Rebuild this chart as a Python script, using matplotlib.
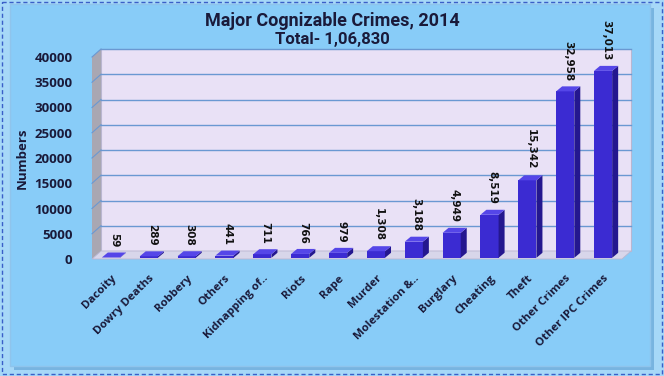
import matplotlib
matplotlib.use("Agg")
import matplotlib.pyplot as plt
from matplotlib.patches import Polygon, Rectangle
from matplotlib import font_manager
import numpy as np

categories = ["Dacoity", "Dowry Deaths", "Robbery", "Others", "Kidnapping of..", "Riots",
              "Rape", "Murder", "Molestation &..", "Burglary", "Cheating", "Theft",
              "Other Crimes", "Other IPC Crimes"]
values = [59, 289, 308, 441, 711, 766, 979, 1308, 3188, 4949, 8519, 15342, 32958, 37013]
value_labels = ["59", "289", "308", "441", "711", "766", "979", "1,308", "3,188", "4,949",
                "8,519", "15,342", "32,958", "37,013"]
yticks = [0, 5000, 10000, 15000, 20000, 25000, 30000, 35000, 40000]

names = {f.name for f in font_manager.fontManager.ttflist}
title_font = "Roboto" if "Roboto" in names else "DejaVu Sans"
label_font = "Open Sans" if "Open Sans" in names else "DejaVu Sans"

W, H = 664, 376
fig = plt.figure(figsize=(W / 100, H / 100), dpi=100)
fig.patch.set_facecolor("#A6D8F8")

bg = fig.add_axes([0, 0, 1, 1])
bg.set_xlim(0, W); bg.set_ylim(H, 0); bg.axis("off")
bg.add_patch(Rectangle((14, 8), 640, 362, facecolor="#78B4E0", edgecolor="none"))
bg.add_patch(Rectangle((10, 4), 640, 362, facecolor="#88CCF8", edgecolor="#8FC4EC", lw=1))
bg.add_patch(Rectangle((2, 2), W - 4, H - 4, facecolor="none", edgecolor="#3A5FC8",
                       lw=1, ls=(0, (3, 2))))

left, right, bot, top = 92, 622, 259, 57
ax = fig.add_axes([left / W, 1 - bot / H, (right - left) / W, (bot - top) / H])
ax.set_xlim(-0.5, len(categories) - 0.5)
ax.set_ylim(0, 40000)
ax.patch.set_alpha(0)
for s in ax.spines.values():
    s.set_visible(False)

ppx = (right - left) / len(categories)
ppy = (bot - top) / 40000.0
dx = 9 / ppx
dy = 8 / ppy
x0, x1 = -0.5, len(categories) - 0.5

ax.add_patch(Polygon([(x0 + dx, dy), (x1 + dx, dy), (x1 + dx, 40000 + dy), (x0 + dx, 40000 + dy)],
                     closed=True, facecolor="#E9E1F6", edgecolor="#B9B6D0", lw=0.8, clip_on=False, zorder=0))
ax.add_patch(Polygon([(x0, 0), (x0 + dx, dy), (x0 + dx, 40000 + dy), (x0, 40000)],
                     closed=True, facecolor="#A9A7B2", edgecolor="none", clip_on=False, zorder=0))
ax.add_patch(Polygon([(x0, 0), (x1, 0), (x1 + dx, dy), (x0 + dx, dy)],
                     closed=True, facecolor="#D8D6EA", edgecolor="#B9B6D0", lw=0.6, clip_on=False, zorder=0))
for t in yticks[1:]:
    ax.plot([x0 + dx, x1 + dx], [t + dy, t + dy], color="#6A98D2", lw=1.0, clip_on=False, zorder=1)
    ax.plot([x0, x0 + dx], [t, t + dy], color="#6A98D2", lw=0.8, clip_on=False, zorder=1)

bw = 0.24
bdx = 6 / ppx
bdy = 5 / ppy
for i, v in enumerate(values):
    xl, xr = i - bw, i + bw
    y0 = dy * 0.15
    ax.add_patch(Polygon([(xl, y0), (xr, y0), (xr, y0 + v), (xl, y0 + v)], closed=True,
                         facecolor="#3B2BD2", edgecolor="none", clip_on=False, zorder=3))
    ax.add_patch(Polygon([(xr, y0), (xr + bdx, y0 + bdy), (xr + bdx, y0 + v + bdy), (xr, y0 + v)],
                         closed=True, facecolor="#24178F", edgecolor="none", clip_on=False, zorder=3))
    ax.add_patch(Polygon([(xl, y0 + v), (xr, y0 + v), (xr + bdx, y0 + v + bdy), (xl + bdx, y0 + v + bdy)],
                         closed=True, facecolor="#5546E8", edgecolor="none", clip_on=False, zorder=3))
    ax.annotate(value_labels[i], (i + bdx / 2, y0 + v + bdy), xytext=(0, 4), textcoords="offset points",
                rotation=270, rotation_mode="anchor", ha="right", va="center", fontsize=7.5,
                fontweight="bold", color="#111111", annotation_clip=False, zorder=4)

ax.set_yticks(yticks)
ax.set_yticklabels([str(t) for t in yticks], fontsize=9.5, fontweight="bold", color="#1A1A3A",
                   family=label_font)
ax.tick_params(axis="y", length=0, pad=14)
ax.set_xticks(range(len(categories)))
ax.set_xticklabels(categories, rotation=45, ha="right", rotation_mode="anchor",
                   fontsize=8.2, fontweight="bold", color="#1A1A3A", family=label_font)
ax.tick_params(axis="x", length=0, pad=10)
ax.set_ylabel("Numbers", fontsize=9.5, fontweight="bold", color="#1A1A3A", labelpad=4,
              family=label_font)

fig.text(0.5, 0.945, "Major Cognizable Crimes, 2014", ha="center", va="center",
         fontsize=13, fontweight="bold", color="#1A1A3A", family=title_font)
fig.text(0.5, 0.895, "Total- 1,06,830", ha="center", va="center",
         fontsize=12, fontweight="bold", color="#1A1A3A", family=title_font)

fig.savefig("out.png", dpi=100, facecolor=fig.get_facecolor())
